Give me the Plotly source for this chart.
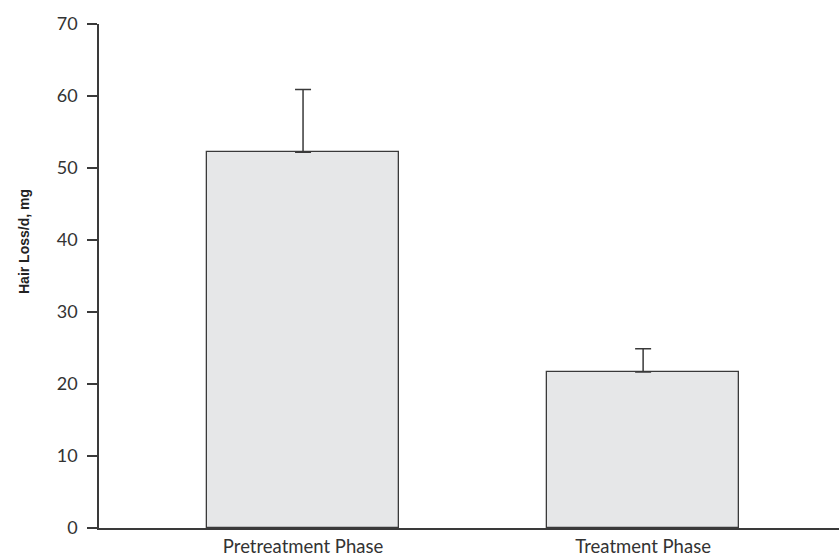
import plotly.graph_objects as go

# Mean daily hair loss per study phase, with upper error (SD)
phases = ["Pretreatment Phase", "Treatment Phase"]
mean_loss = [52.2, 21.65]
error_plus = [8.7, 3.25]
error_minus = [0, 0]
y_ticks = [0, 10, 20, 30, 40, 50, 60, 70]

positions = list(range(len(phases)))

fig = go.Figure(
    go.Bar(
        x=positions,
        y=mean_loss,
        width=0.565,
        marker=dict(color="#e6e7e8", line=dict(color="#3a3a3a", width=1.3)),
        error_y=dict(
            type="data",
            symmetric=False,
            array=error_plus,
            arrayminus=error_minus,
            color="#3a3a3a",
            thickness=1.5,
            width=8,
        ),
        showlegend=False,
    )
)

fig.update_layout(
    width=839,
    height=558,
    margin=dict(l=99, r=0, t=24, b=30, autoexpand=False),
    plot_bgcolor="white",
    paper_bgcolor="white",
    font=dict(family="Lato", size=18, color="#333333"),
    bargap=0,
)

fig.update_xaxes(
    range=[-0.6, 1.576],
    tickmode="array",
    tickvals=positions,
    ticktext=phases,
    tickfont=dict(size=18.5),
    ticklabelstandoff=1,
    showline=True,
    linecolor="#3a3a3a",
    linewidth=1.5,
    ticks="",
    showgrid=False,
    zeroline=False,
    automargin=False,
)

fig.update_yaxes(
    range=[0, 70],
    tickmode="array",
    tickvals=y_ticks,
    tickfont=dict(size=18),
    ticklabelstandoff=6,
    showline=True,
    linecolor="#3a3a3a",
    linewidth=1.5,
    ticks="outside",
    ticklen=10,
    tickwidth=1.5,
    tickcolor="#3a3a3a",
    showgrid=False,
    zeroline=False,
    automargin=False,
)

fig.add_annotation(
    text="<b>Hair Loss/d, mg</b>",
    xref="paper",
    yref="paper",
    x=-99 / 740 + 24 / 740,
    y=(528 - 242) / 504,
    textangle=-90,
    showarrow=False,
    font=dict(family="Liberation Sans", size=14, color="#222222"),
    xanchor="center",
    yanchor="middle",
)

fig.write_html("out.html")
